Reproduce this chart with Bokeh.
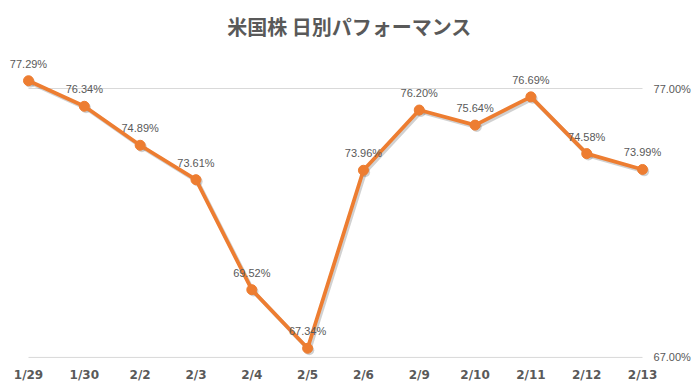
from bokeh.plotting import figure
from bokeh.models import Range1d, FixedTicker, ColumnDataSource, LabelSet
from bokeh.core.properties import value
from bokeh.transform import dodge
from bokeh.embed import file_html
from bokeh.resources import INLINE

# ---- data ----
categories = ["1/29", "1/30", "2/2", "2/3", "2/4", "2/5", "2/6", "2/9", "2/10", "2/11", "2/12", "2/13"]
values = [77.29, 76.34, 74.89, 73.61, 69.52, 67.34, 73.96, 76.20, 75.64, 76.69, 74.58, 73.99]
y_ticks = [67, 77]
y_tick_labels = ["67.00%", "77.00%"]
title_text = "米国株 日別パフォーマンス"

xs = list(range(len(categories)))
labels = [f"{v:.2f}%" for v in values]
src = ColumnDataSource(dict(x=xs, y=values, lab=labels))
last = len(categories) - 1

GRAY = "#595959"
ORANGE = "#ED7D31"

p = figure(width=698, height=392, output_backend="svg", toolbar_location=None,
           x_range=Range1d(-0.466, last + 0.967),
           y_range=Range1d(66.70, 78.6),
           title=title_text,
           min_border_left=2, min_border_right=2, min_border_top=45, min_border_bottom=27)
p.outline_line_color = None
p.background_fill_color = "white"
p.border_fill_color = "white"

p.title.align = "center"
p.title.text_font = "Noto Sans CJK JP"
p.title.text_font_style = "bold"
p.title.text_font_size = "20px"
p.title.text_color = GRAY

# grid lines as segments spanning the category extent
p.xgrid.visible = False
p.ygrid.visible = False
p.segment(x0=[0] * len(y_ticks), x1=[last] * len(y_ticks), y0=y_ticks, y1=y_ticks,
          line_color="#D9D9D9", line_width=1)

# value-axis labels on the right
p.text(x=[last] * len(y_ticks), y=y_ticks, text=y_tick_labels, x_offset=11,
       text_align="left", text_baseline="middle", text_font=value("Liberation Sans"),
       text_font_size="11px", text_color=GRAY)

# soft shadow
p.line(dodge("x", 0.03, range=p.x_range), dodge("y", -0.07, range=p.y_range), source=src,
       line_color="#000000", line_alpha=0.18, line_width=4, line_join="round")
p.scatter(dodge("x", 0.03, range=p.x_range), dodge("y", -0.07, range=p.y_range), source=src,
          size=10, fill_color="#000000", fill_alpha=0.18, line_color=None)

# line + markers
p.line("x", "y", source=src, line_color=ORANGE, line_width=3.75, line_join="round")
p.scatter("x", "y", source=src, size=10, fill_color=ORANGE, line_color=ORANGE)

# data labels
ls = LabelSet(x="x", y="y", text="lab", source=src, y_offset=17, text_align="center",
              text_baseline="middle", text_font_size=value("11px"), text_color=GRAY,
              text_font=value("Liberation Sans"))
p.add_layout(ls)

# x axis
xa = p.xaxis[0]
xa.ticker = FixedTicker(ticks=xs)
xa.major_label_overrides = {i: c for i, c in enumerate(categories)}
xa.axis_line_color = None
xa.major_tick_line_color = None
xa.minor_tick_line_color = None
xa.major_label_standoff = -4
xa.major_label_text_font = "DejaVu Sans"
xa.major_label_text_font_style = "bold"
xa.major_label_text_font_size = "12px"
xa.major_label_text_color = GRAY

p.yaxis.visible = False

open("out.html", "w").write(file_html(p, INLINE))
